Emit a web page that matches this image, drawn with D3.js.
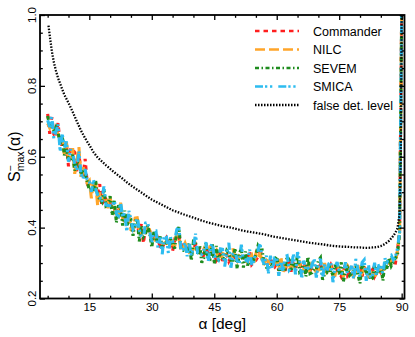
<!DOCTYPE html>
<html><head><meta charset="utf-8">
<script src="https://cdn.jsdelivr.net/npm/d3@7"></script>
<style>html,body{margin:0;padding:0;background:#fff;} svg{display:block;font-family:"Liberation Sans",Arial,Helvetica,sans-serif;}</style>
</head><body><svg id="chart" width="415" height="337"></svg>
<script>
const alpha = [
5,5.5,6,6.5,7,7.5,8,8.5,9,9.5,
10,10.5,11,11.5,12,12.5,13,13.5,14,14.5,
15,15.5,16,16.5,17,17.5,18,18.5,19,19.5,
20,20.5,21,21.5,22,22.5,23,23.5,24,24.5,
25,25.5,26,26.5,27,27.5,28,28.5,29,29.5,
30,30.5,31,31.5,32,32.5,33,33.5,34,34.5,
35,35.5,36,36.5,37,37.5,38,38.5,39,39.5,
40,40.5,41,41.5,42,42.5,43,43.5,44,44.5,
45,45.5,46,46.5,47,47.5,48,48.5,49,49.5,
50,50.5,51,51.5,52,52.5,53,53.5,54,54.5,
55,55.5,56,56.5,57,57.5,58,58.5,59,59.5,
60,60.5,61,61.5,62,62.5,63,63.5,64,64.5,
65,65.5,66,66.5,67,67.5,68,68.5,69,69.5,
70,70.5,71,71.5,72,72.5,73,73.5,74,74.5,
75,75.5,76,76.5,77,77.5,78,78.5,79,79.5,
80,80.5,81,81.5,82,82.5,83,83.5,84,84.5,
85,85.5,86,86.5,87,87.5,88,88.5,89,89.5,
90];
const commander = [
0.721,0.665,0.712,0.663,0.655,0.695,0.635,0.635,0.639,0.634,
0.573,0.624,0.621,0.612,0.559,0.607,0.558,0.545,0.594,0.524,
0.512,0.504,0.522,0.507,0.497,0.523,0.461,0.489,0.480,0.470,
0.468,0.453,0.452,0.441,0.450,0.446,0.441,0.438,0.413,0.420,
0.416,0.404,0.402,0.404,0.388,0.410,0.356,0.401,0.401,0.391,
0.362,0.364,0.386,0.366,0.346,0.342,0.357,0.370,0.355,0.357,
0.334,0.365,0.360,0.373,0.355,0.339,0.344,0.343,0.327,0.336,
0.338,0.353,0.336,0.341,0.334,0.318,0.346,0.330,0.321,0.329,
0.325,0.308,0.319,0.328,0.306,0.320,0.324,0.305,0.317,0.321,
0.315,0.313,0.317,0.319,0.315,0.309,0.311,0.333,0.296,0.303,
0.308,0.318,0.331,0.324,0.302,0.294,0.298,0.312,0.295,0.289,
0.298,0.279,0.297,0.293,0.278,0.300,0.304,0.276,0.298,0.286,
0.302,0.299,0.286,0.295,0.289,0.285,0.279,0.289,0.287,0.280,
0.298,0.294,0.284,0.284,0.280,0.282,0.295,0.282,0.281,0.282,
0.275,0.262,0.277,0.297,0.265,0.274,0.291,0.262,0.282,0.285,
0.290,0.262,0.289,0.277,0.265,0.274,0.282,0.262,0.274,0.281,
0.273,0.278,0.290,0.297,0.297,0.309,0.301,0.300,0.337,0.387,
1.000];
const nilc = [
0.694,0.681,0.691,0.676,0.674,0.664,0.642,0.650,0.607,0.640,
0.595,0.597,0.624,0.552,0.589,0.627,0.543,0.573,0.547,0.527,
0.533,0.483,0.532,0.528,0.463,0.499,0.477,0.492,0.488,0.455,
0.483,0.459,0.457,0.429,0.430,0.470,0.425,0.418,0.420,0.438,
0.394,0.392,0.427,0.428,0.398,0.378,0.377,0.386,0.408,0.393,
0.368,0.361,0.373,0.362,0.365,0.355,0.355,0.361,0.347,0.351,
0.358,0.347,0.383,0.377,0.334,0.342,0.356,0.340,0.330,0.331,
0.340,0.350,0.332,0.329,0.325,0.339,0.326,0.325,0.349,0.332,
0.328,0.336,0.311,0.310,0.327,0.324,0.323,0.327,0.311,0.341,
0.312,0.305,0.320,0.316,0.317,0.321,0.299,0.314,0.322,0.297,
0.326,0.315,0.326,0.307,0.299,0.309,0.305,0.294,0.290,0.302,
0.301,0.282,0.318,0.275,0.289,0.294,0.280,0.294,0.295,0.284,
0.298,0.302,0.272,0.283,0.293,0.300,0.273,0.303,0.284,0.274,
0.280,0.288,0.280,0.300,0.275,0.283,0.289,0.264,0.265,0.297,
0.282,0.287,0.262,0.281,0.292,0.283,0.268,0.262,0.279,0.294,
0.260,0.272,0.285,0.281,0.264,0.271,0.281,0.262,0.283,0.281,
0.276,0.280,0.286,0.294,0.294,0.310,0.306,0.303,0.335,0.387,
1.000];
const sevem = [
0.715,0.687,0.688,0.670,0.684,0.670,0.636,0.659,0.604,0.622,
0.589,0.594,0.606,0.561,0.586,0.582,0.549,0.565,0.550,0.530,
0.506,0.510,0.508,0.534,0.487,0.481,0.473,0.510,0.461,0.465,
0.489,0.435,0.478,0.414,0.460,0.461,0.406,0.448,0.407,0.417,
0.421,0.377,0.418,0.425,0.361,0.405,0.374,0.383,0.405,0.384,
0.344,0.388,0.370,0.356,0.375,0.345,0.349,0.364,0.350,0.369,
0.352,0.341,0.392,0.401,0.340,0.336,0.335,0.334,0.357,0.307,
0.361,0.359,0.326,0.350,0.301,0.315,0.356,0.316,0.312,0.353,
0.298,0.348,0.305,0.337,0.315,0.311,0.335,0.327,0.308,0.308,
0.342,0.284,0.326,0.340,0.287,0.333,0.293,0.308,0.316,0.309,
0.323,0.348,0.336,0.337,0.293,0.288,0.289,0.297,0.293,0.311,
0.319,0.282,0.282,0.284,0.283,0.318,0.309,0.281,0.301,0.289,
0.322,0.275,0.281,0.304,0.262,0.318,0.270,0.273,0.284,0.283,
0.307,0.315,0.253,0.269,0.272,0.298,0.268,0.270,0.295,0.282,
0.269,0.302,0.248,0.275,0.286,0.265,0.271,0.279,0.288,0.267,
0.243,0.296,0.285,0.274,0.286,0.253,0.257,0.295,0.271,0.269,
0.291,0.250,0.307,0.282,0.315,0.292,0.303,0.315,0.323,0.387,
1.000];
const smica = [
0.703,0.684,0.715,0.649,0.672,0.691,0.615,0.665,0.625,0.643,
0.586,0.621,0.609,0.579,0.562,0.615,0.552,0.538,0.565,0.533,
0.530,0.501,0.535,0.510,0.493,0.487,0.473,0.516,0.464,0.462,
0.462,0.462,0.475,0.438,0.433,0.473,0.430,0.442,0.389,0.447,
0.424,0.395,0.403,0.431,0.394,0.375,0.371,0.413,0.414,0.390,
0.359,0.391,0.391,0.341,0.372,0.324,0.382,0.376,0.326,0.372,
0.361,0.362,0.395,0.401,0.337,0.339,0.362,0.319,0.354,0.322,
0.343,0.383,0.329,0.326,0.325,0.336,0.359,0.301,0.339,0.359,
0.319,0.321,0.311,0.340,0.339,0.290,0.329,0.357,0.287,0.326,
0.333,0.305,0.299,0.352,0.305,0.309,0.305,0.338,0.295,0.306,
0.335,0.336,0.355,0.310,0.296,0.321,0.271,0.321,0.281,0.314,
0.313,0.264,0.309,0.278,0.319,0.321,0.280,0.287,0.325,0.268,
0.331,0.308,0.257,0.307,0.280,0.285,0.276,0.297,0.311,0.259,
0.301,0.312,0.256,0.296,0.272,0.298,0.301,0.246,0.289,0.303,
0.278,0.272,0.269,0.302,0.268,0.277,0.292,0.252,0.312,0.282,
0.261,0.302,0.309,0.250,0.298,0.259,0.266,0.301,0.262,0.293,
0.294,0.268,0.313,0.303,0.318,0.322,0.309,0.318,0.341,0.387,
1.000];
const alphaFalse = [5.2,5.5,6,6.5,7,7.5,8,9,10,11,12,13,14,15,16,17,18,19,20,21,22,23,24,25,26,27,28,29,30,
31,32,33,34,35,36,37,38,39,40,41,42,43,44,45,46,47,48,49,50,51,52,53,54,55,56,57,58,59,60,
61,62,63,64,65,66,67,68,69,70,71,72,73,74,75,76,77,78,79,80,81,82,83,84,85,86,87,88,88.5,89,89.5,89.8,90];
const falseLevel = [0.970,0.942,0.898,0.866,0.842,0.822,0.806,0.775,0.752,0.727,0.700,0.674,0.652,0.633,0.613,0.598,0.587,0.576,0.566,0.556,0.547,0.538,0.528,0.519,0.511,0.503,0.495,0.487,0.479,
0.473,0.467,0.461,0.455,0.449,0.445,0.440,0.436,0.432,0.428,0.424,0.420,0.416,0.413,0.410,0.407,0.404,0.402,0.400,0.397,0.394,0.391,0.389,0.387,0.385,0.383,0.381,0.378,0.375,0.373,
0.371,0.369,0.367,0.365,0.363,0.361,0.359,0.357,0.356,0.354,0.353,0.351,0.349,0.348,0.347,0.346,0.346,0.345,0.344,0.344,0.343,0.343,0.344,0.345,0.348,0.354,0.363,0.377,0.386,0.398,0.440,0.600,1.000];
const xTicks = [15,30,45,60,75,90];
const xMinor = [5,10,20,25,35,40,50,55,65,70,80,85];
const yTicks = [0.2,0.4,0.6,0.8,1.0];
const yMinor = [0.25,0.3,0.35,0.45,0.5,0.55,0.65,0.7,0.75,0.85,0.9,0.95];
const seriesNames = ["Commander","NILC","SEVEM","SMICA","false det. level"];
const seriesColors = ["#ff1e1e","#ffa52a","#1e8c1e","#2dbcf0","#000000"];
const seriesDash = ["4.5,4","10,4","4,2.5,1.5,2.5","8,2,2.3,2.7,2.3,6","1.5,1.5"];

const svg = d3.select("#chart");
const L = 40, R = 404.5, T = 15, B = 298.5;
const x = d3.scaleLinear().domain([3.16, 90.68]).range([L, R]);
const y = d3.scaleLinear().domain([0.2, 1.0]).range([B, T]);

svg.append("defs").append("clipPath").attr("id","clip")
  .append("rect").attr("x",L).attr("y",T).attr("width",R-L).attr("height",B-T);

const line = d3.line().x(d => x(d[0])).y(d => y(d[1]));
const seriesData = [
  d3.zip(alpha, commander), d3.zip(alpha, nilc), d3.zip(alpha, sevem), d3.zip(alpha, smica),
  d3.zip(alphaFalse, falseLevel)
];
const gData = svg.append("g").attr("clip-path","url(#clip)");
seriesData.forEach((d, i) => {
  gData.append("path").datum(d).attr("d", line)
    .attr("fill","none").attr("stroke", seriesColors[i])
    .attr("stroke-width", i === 4 ? 2.3 : 3.1)
    .attr("stroke-dasharray", seriesDash[i])
    .attr("stroke-linejoin", i === 4 ? "round" : "miter")
    .attr("stroke-miterlimit", 3);
});

function styleAxis(g) {
  g.select(".domain").remove();
  g.selectAll("line").attr("stroke","#000").attr("stroke-width",1.3);
  g.selectAll("text").attr("fill","#000").style("font-family",'"Liberation Sans",Arial,Helvetica,sans-serif');
}
// bottom
svg.append("g").attr("transform",`translate(0,${B})`)
  .call(d3.axisBottom(x).tickValues(xTicks).tickSize(-5).tickPadding(4.8).tickFormat(d3.format("d")))
  .call(styleAxis).call(g => g.selectAll("text").attr("font-size","11.5px"));
svg.append("g").attr("transform",`translate(0,${B})`)
  .call(d3.axisBottom(x).tickValues(xMinor).tickSize(-2.8).tickFormat("")).call(styleAxis);
// top
svg.append("g").attr("transform",`translate(0,${T})`)
  .call(d3.axisTop(x).tickValues(xTicks).tickSize(-5).tickFormat("")).call(styleAxis);
svg.append("g").attr("transform",`translate(0,${T})`)
  .call(d3.axisTop(x).tickValues(xMinor).tickSize(-2.8).tickFormat("")).call(styleAxis);
// left
svg.append("g").attr("transform",`translate(${L},0)`)
  .call(d3.axisLeft(y).tickValues(yTicks).tickSize(-5).tickFormat("")).call(styleAxis);
svg.append("g").attr("transform",`translate(${L},0)`)
  .call(d3.axisLeft(y).tickValues(yMinor).tickSize(-2.8).tickFormat("")).call(styleAxis);
// right
svg.append("g").attr("transform",`translate(${R},0)`)
  .call(d3.axisRight(y).tickValues(yTicks).tickSize(-5).tickFormat("")).call(styleAxis);
svg.append("g").attr("transform",`translate(${R},0)`)
  .call(d3.axisRight(y).tickValues(yMinor).tickSize(-2.8).tickFormat("")).call(styleAxis);

// y tick labels (rotated)
svg.append("g").selectAll("text").data(yTicks).join("text")
  .attr("transform", d => `translate(36,${y(d)}) rotate(-90)`)
  .attr("text-anchor","middle").attr("font-size","11.5px")
  .text(d => d3.format(".1f")(d));

// frame
svg.append("rect").attr("x",L).attr("y",T).attr("width",R-L).attr("height",B-T)
  .attr("fill","none").attr("stroke","#000").attr("stroke-width",1.8);

// axis titles
svg.append("text").attr("x",(L+R)/2).attr("y",328.5).attr("text-anchor","middle")
  .attr("font-size","15.5px").text("α [deg]");
const yl = svg.append("text").attr("transform",`translate(20,${(T+B)/2}) rotate(-90)`)
  .attr("text-anchor","middle").attr("font-size","16px");
yl.append("tspan").text("S");
yl.append("tspan").attr("font-size","10.5px").attr("dy",3.5).text("max");
yl.append("tspan").attr("font-size","10.5px").attr("dx",-20).attr("dy",-10).text("−");
yl.append("tspan").attr("dx",14).attr("dy",6.5).text("(α)");

// legend
const legY = [31, 49.5, 68, 86.5, 105];
const leg = svg.append("g");
seriesNames.forEach((n, i) => {
  leg.append("line").attr("x1",255).attr("x2",299).attr("y1",legY[i]).attr("y2",legY[i])
    .attr("stroke",seriesColors[i]).attr("stroke-width", i === 4 ? 2.3 : 2.7)
    .attr("stroke-dasharray",seriesDash[i]);
  leg.append("text").attr("x",313).attr("y",legY[i]+4.5).attr("font-size","12.5px").text(n);
});
</script></body></html>
